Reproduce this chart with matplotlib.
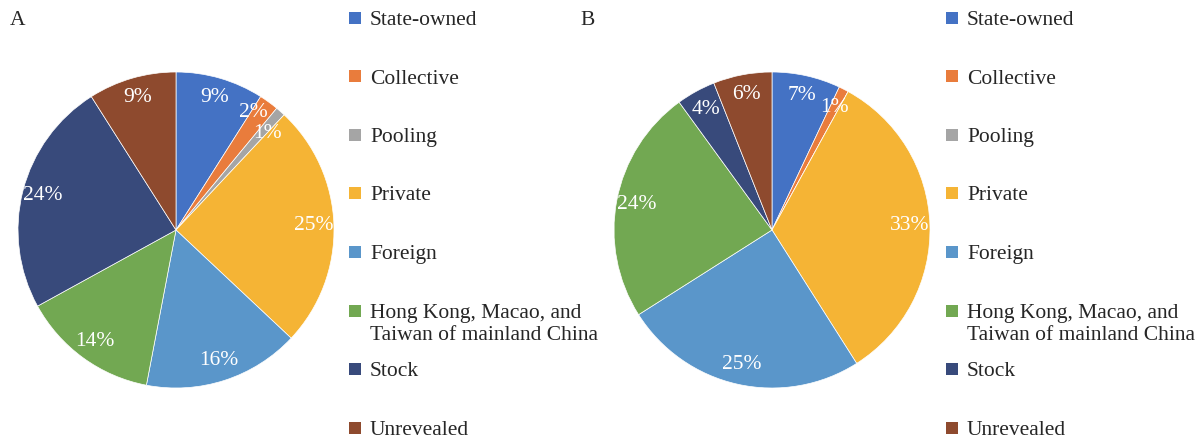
import numpy as np
import matplotlib.pyplot as plt
from matplotlib.patches import Rectangle

categories = ["State-owned", "Collective", "Pooling", "Private", "Foreign",
              "Hong Kong, Macao, and\nTaiwan of mainland China", "Stock", "Unrevealed"]
share_a = [9, 2, 1, 25, 16, 14, 24, 9]
share_b = [7, 1, 0, 33, 25, 24, 4, 6]
colors = ["#4472C4", "#E97C3C", "#A5A5A5", "#F5B435", "#5A96CA",
          "#72A852", "#384A7B", "#8E4A2E"]

plt.rcParams['font.family'] = ['Liberation Serif', 'DejaVu Serif']

W, H = 1202, 440
fig = plt.figure(figsize=(W / 100, H / 100), dpi=100)


def pct_label(p):
    return '' if p < 0.5 else '%d%%' % round(p)


def draw_panel(values, cx, letter, letter_x, leg_x, nudge):
    r = 158
    ax = fig.add_axes([(cx - r) / W, (H - 230 - r) / H, 2 * r / W, 2 * r / H])
    wedges, texts = ax.pie(values, colors=colors, startangle=90, counterclock=False,
                           labels=[pct_label(v) for v in values], labeldistance=0.87,
                           wedgeprops=dict(edgecolor='white', linewidth=0.5),
                           textprops=dict(color='white', fontsize=15.5,
                                          ha='center', va='center'))
    # small slices: Excel pushes crowded labels apart
    for i, (ang, rad) in nudge.items():
        a = np.deg2rad(90 - ang)
        texts[i].set_position((rad * np.cos(a), rad * np.sin(a)))
    for t in texts:
        t.set_ha('center')
    ax.set_xlim(-1, 1)
    ax.set_ylim(-1, 1)
    ax.set_aspect('equal')

    fig.text(letter_x / W, 1 - 18 / H, letter, fontsize=15.5, color='#262626',
             ha='left', va='center_baseline')

    # legend
    for i, (name, col) in enumerate(zip(categories, colors)):
        y = 18 + i * 58.5
        fig.add_artist(Rectangle((leg_x / W, 1 - (y + 6) / H), 12 / W, 12 / H,
                                 transform=fig.transFigure, facecolor=col,
                                 edgecolor='none'))
        for j, line in enumerate(name.split('\n')):
            fig.text((leg_x + 21) / W, 1 - (y + j * 23) / H, line, fontsize=15.5,
                     color='#262626', ha='left', va='center_baseline')


draw_panel(share_a, 176, 'A', 10, 349, {1: (33.3, 0.89), 2: (43.5, 0.84)})
draw_panel(share_b, 772, 'B', 580, 946, {})

fig.savefig('out.png', dpi=100)
